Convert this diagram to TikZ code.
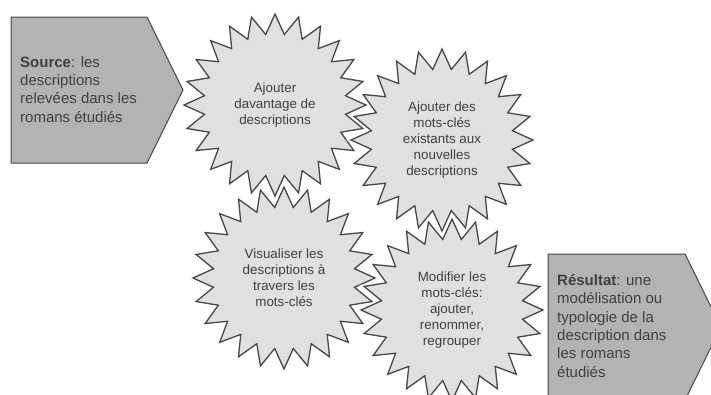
\documentclass[tikz,border=0pt]{standalone}
\usepackage{fontspec}
\setmainfont{Liberation Sans}
\usetikzlibrary{shapes.geometric}
\definecolor{txt}{HTML}{404040}
\definecolor{edge}{HTML}{474747}
\definecolor{starfill}{HTML}{E0E0E0}
\definecolor{boxfill}{HTML}{B3B3B3}
\tikzset{
  burst/.style={star, star points=24, star point ratio=1.28, minimum size=182pt,
    inner sep=0pt, fill=starfill, draw=edge, line width=1.3pt, line join=miter,
    text=txt, align=center, font=\fontsize{13.4}{16}\selectfont,
    preaction={draw=white, line width=4pt}},
  arrowbox/.style={fill=boxfill, draw=edge, line width=1pt},
  boxtext/.style={anchor=north west, align=left, text=txt, inner sep=0pt,
    font=\fontsize{15}{18.4}\selectfont}
}
\begin{document}
\begin{tikzpicture}[x=1pt,y=-1pt]
\useasboundingbox (0,0) rectangle (711,394);
\clip (0,0) rectangle (711,394);
% source
\draw[arrowbox] (11,17) -- (147,17) -- (183,90) -- (147,163) -- (11,163) -- cycle;
\node[boxtext] (src) at (20,56) {\textbf{Source}: les\\descriptions\\relevées dans les\\romans étudiés};
% result
\draw[arrowbox] (548,254) -- (685,254) -- (721,327) -- (685,400) -- (548,400) -- cycle;
\node[boxtext] (res) at (557,274) {\textbf{Résultat}: une\\modélisation ou\\typologie de la\\description dans\\les romans\\étudiés};
% bursts
\node[burst] (s1) at (275,105) {Ajouter\\davantage de\\descriptions};
\node[burst] (s2) at (442,140) {Ajouter des\\mots-clés\\existants aux\\nouvelles\\descriptions};
\node[burst] (s3) at (284,278) {Visualiser les\\descriptions à\\travers les\\mots-clés};
\node[burst] (s4) at (452,310) {Modifier les\\mots-clés:\\ajouter,\\renommer,\\regrouper};
\end{tikzpicture}
\end{document}
